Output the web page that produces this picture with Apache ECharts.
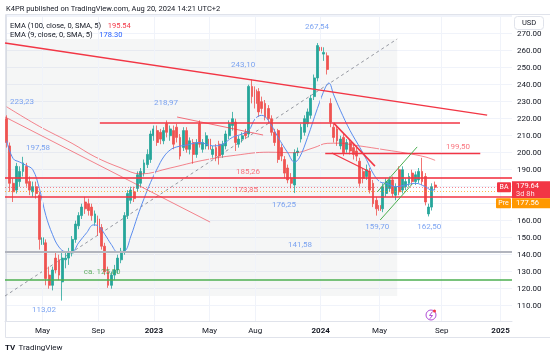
<!DOCTYPE html>
<html>
<head>
<meta charset="utf-8">
<script src="https://cdn.jsdelivr.net/npm/echarts@6/dist/echarts.min.js"></script>
<style>
html,body{margin:0;padding:0;background:#ffffff;}
#chart{width:550px;height:356px;}
</style>
</head>
<body>
<div id="chart"></div>
<script>
// ================= DATA =================
const firstWeek = '2022-02-14';
const weekCount = 155; // visible weekly slots incl. future space

const opens  = [220,204,182,178,183,189,192,183,177,180,175,146,147,128,122,138,137,124,137,138,
                141,149,157,163,171,170,168,159,161,156,145,130,122,128,131,137,142,163,172,177,
                179,182,188,193,196,210,213,212,207,217,210,213,215,209,203,213,202,206,199,217,
                202,204,208,199,203,205,199,204,210,216,218,205,208,212,211,239,237,236,230,229,
                226,220,212,213,203,196,191,185,181,200,208,212,217,222,233,244,262,258,257,229,
                215,214,204,209,202,206,203,201,195,189,186,189,182,172,169,167,176,179,184,175,
                190,178,180,182,188,183,184,189,186,164,168,181];
const closes = [206,182,177,192,189,194,182,178,180,176,149,150,126,122,131,131,128,138,138,141,
                149,158,163,168,167,166,163,164,153,145,130,122,128,131,138,142,163,176,178,173,
                187,189,194,199,211,214,206,208,213,212,214,205,209,198,213,202,207,199,206,205,
                206,210,202,202,198,198,205,211,217,220,206,208,210,210,239,233,229,224,226,221,
                220,212,206,196,198,188,184,182,200,201,215,220,224,232,244,263,260,259,249,218,
                209,207,208,200,206,201,199,198,182,185,190,178,170,167,166,180,183,184,176,180,
                177,190,183,186,183,187,189,183,171,168,180,179.64];
const lows   = [203,177,171,176,180,186,180,175,174,173,143,142,122,120,119,129,125,113.02,132,134,
                139,147,155,161,164,163,160,157,151,143,128,120.5,120,125,129,135,140,161,170,171,
                177,180,186,191,194,207,204,205,205,209,207,202,206,196,201,200,199,193.5,197,203,
                200,202,199,197,195,193,197,202,208,213,201,203,206,208,209,229,226,221,223,219,
                217,210,204,194,195,185,182,179,176.25,198,206,210,215,220,231,242,256,254,246,215,
                206,204,202,198,200,199,196,195,180,182,184,176,168,163,159.7,165,174,177,174,172,
                175,176,178,180,181,181,182,181,169,162.5,166,178];
const highs  = [222,206,185,194,192,197.58,194,186,183,183,177,155,149,133,133,141,140,141,142,144,
                151,160,165,170,174,173,170,166,163,158,147,133,130,134,140,144,165,178,180,180,
                189,191,196,202,213,216,216,214,215,218.97,216,216,217,211,215,215,209,208,208,219,
                208,212,210,204,205,207,207,213,219,224,220,210,212,214,240,243.1,239,238,233,231,
                228,222,214,214,205,198,193,188,202,203,217,222,226,234,246,264.5,267.54,262,259,232,
                217,216,210,211,208,208,205,203,197,191,193,191,184,174,171,182,185,186,186,182,
                192,192,185,188,190,189,191,197,188,170,182,183];

// EMA 9 (blue) and EMA 100 (red): [week index, value]
const ema9Points = [[0,207],[2,196.5],[4,194.5],[6,192.5],[8,190],[10,179],[12,163],[14,152],[16,144.5],
  [18,141.8],[20,141.8],[22,147],[24.5,153],[26.5,157.5],[28,157],[30,152],[32,146],[34,141.5],[36,142],
  [38,151],[40,162.5],[42,173],[44,182.5],[46,190.5],[48,197.5],[50,201.6],[52,203.4],[55,204.5],[59,206],
  [63,204],[66,205],[69,209],[72,211],[74,213],[76,220],[78,222],[80,219],[83,209],[86,199.8],[88,194.5],
  [89.5,197],[92,209],[95,226],[97.5,238.6],[98.5,241],[100,234],[102,225],[105,213],[108,203],[110,196],
  [112,188],[114,183],[116,182],[119,180],[122,181],[125,182],[128,180],[130,178],[131,178.3]];
const ema100Points = [[0,227],[10,215.5],[20,205.5],[27,197.6],[35,191],[41,187.5],[50,191],[60,195.5],
  [70,198.5],[80,200.3],[88,200],[94,203],[98,205.5],[102,205.6],[106,204.5],[110,203.4],[116,201.6],
  [122,199.8],[128,197.5],[131,195.5]];
const ema100Last = '195.54';
const ema9Last = '178.30';
const lastPrice = 179.64;
const prePrice = 177.56;

// x tick labels: [week index, text]
const xTickIdx  = [11, 28, 45, 62, 76, 96, 114, 133, 151];
const xTickText = ['May','Sep','2023','May','Aug','2024','May','Sep','2025'];
const yearTicks = ['2023','2024','2025'];

// Horizontal drawn levels
const fullLevels = [185.26, 173.85, 141.58, 125.00];
// Drawn segments: [x0, v0, x1, v1] in week-index / price units
const segMainDown  = [-0.5, 264.5, 146.9, 222.1];
const segThinDown  = [-0.5, 221.0, 62.2, 159.2];
const segRes217    = [28.5, 217.5, 138.6, 217.5];
const segRes199    = [97.4, 199.5, 144.8, 199.5];
const segChanA     = [100.0, 217.4, 112.6, 192.1];
const segChanB     = [99.4, 199.8, 111.1, 188.6];
const segGreenA    = [113.3, 176.9, 125.5, 203.4];
const segGreenB    = [114.2, 160.4, 124.0, 181.6];
const segPennant   = [52.1, 221.0, 78.4, 210.4];
const rangeBox     = [-0.5, 115.7, 119.4, 266.9];

// Price notes: [week index, price anchor, text, kind]
const notes = [
  [4.7, 229.8, '223,23', 'blue'],
  [9.6, 202.8, '197,58', 'blue'],
  [48.7, 229.2, '218,97', 'blue'],
  [72.3, 251.6, '243,10', 'blue'],
  [94.9, 273.9, '267,54', 'blue'],
  [73.8, 188.6, '185,26', 'red'],
  [73.2, 178.1, '173,85', 'red'],
  [84.8, 169.2, '176,25', 'blue'],
  [113.3, 156.3, '159,70', 'blue'],
  [129.2, 156.3, '162,50', 'blue'],
  [138.0, 203.4, '199,50', 'red'],
  [89.7, 145.7, '141,58', 'blue'],
  [29.2, 129.8, 'ca. 125,00', 'green'],
  [11.4, 107.5, '113,02', 'blue']
];

// ================= BUILD =================
const categories = [];
{
  const t0 = Date.parse(firstWeek + 'T00:00:00Z');
  for (let i = 0; i < weekCount; i++) categories.push(new Date(t0 + i * 7 * 86400000).toISOString().slice(0, 10));
}
const candles = opens.map((o, i) => [o, closes[i], lows[i], highs[i]]);
const tickMap = new Map(xTickIdx.map((k, j) => [k, xTickText[j]]));

const UP = '#26a69a', DOWN = '#ef5350', RED = '#f23645';
const noteColor = { blue: '#5b8def', red: '#f7525f', green: '#43a047' };
const FONT = 'Roboto, sans-serif';

function seg(s, color, width, type, z) {
  return {
    type: 'line', xAxisIndex: 1, yAxisIndex: 0, silent: true, symbol: 'none', z: z || 5,
    data: [[s[0], s[1]], [s[2], s[3]]],
    lineStyle: { color: color, width: width, type: type || 'solid' }, animation: false
  };
}

const chart = echarts.init(document.getElementById('chart'), null, { renderer: 'canvas' });

const option = {
  animation: false,
  backgroundColor: '#ffffff',
  textStyle: { fontFamily: FONT },
  grid: { left: 5, right: 38, top: 15, bottom: 35, containLabel: false, outerBoundsMode: 'none' },
  xAxis: [
    {
      type: 'category', data: categories, boundaryGap: true,
      axisLine: { show: true, lineStyle: { color: '#e0e3eb' } },
      axisTick: { show: false },
      splitLine: { show: false },
      axisLabel: {
        interval: (i) => tickMap.has(i),
        formatter: (v, i) => { const t = tickMap.get(i) || ''; return yearTicks.includes(t) ? '{b|' + t + '}' : t; },
        color: '#131722', fontSize: 8, margin: 6, fontFamily: FONT,
        rich: { b: { fontWeight: 'bold', fontSize: 8, color: '#131722', fontFamily: FONT } }
      }
    },
    { type: 'value', min: -0.5, max: weekCount - 0.5, show: false, scale: true }
  ],
  yAxis: {
    type: 'value', position: 'right', min: 101, max: 281, minInterval: 10, maxInterval: 10,
    axisLine: { show: true, lineStyle: { color: '#e0e3eb' } },
    axisTick: { show: false },
    splitLine: { show: true, lineStyle: { color: '#f0f3fa', width: 1 } },
    axisLabel: {
      color: '#131722', fontSize: 8, margin: 5, fontFamily: FONT, showMinLabel: false, showMaxLabel: false,
      formatter: (v) => {
        const r = Math.round(v);
        if (Math.abs(v - r) > 1e-6 || r % 10 !== 0) return '';
        if (r === 280 || r === 170 || r === 180) return '';
        return r.toFixed(2);
      }
    }
  },
  series: [
    {
      type: 'line', xAxisIndex: 0, data: [], silent: true, z: 0,
      markLine: {
        silent: true, symbol: 'none', label: { show: false },
        lineStyle: { color: '#f0f3fa', type: 'solid', width: 1 },
        data: xTickIdx.map(i => ({ xAxis: categories[i] }))
      }
    },
    {
      type: 'line', xAxisIndex: 1, data: [], silent: true, z: 1,
      markArea: {
        silent: true, itemStyle: { color: 'rgba(120,123,134,0.07)' },
        data: [[{ coord: [rangeBox[0], rangeBox[1]] }, { coord: [rangeBox[2], rangeBox[3]] }]]
      }
    },
    seg([rangeBox[0], rangeBox[1], rangeBox[2], rangeBox[3]], '#9598a1', 1, [3, 3], 2),
    {
      type: 'candlestick', xAxisIndex: 0, yAxisIndex: 0, data: candles, barWidth: 2.4, z: 3,
      itemStyle: { color: UP, color0: DOWN, borderColor: UP, borderColor0: DOWN, borderWidth: 0.8 }
    },
    {
      type: 'line', xAxisIndex: 1, data: ema100Points, smooth: 0.4, symbol: 'none', z: 4, silent: true,
      lineStyle: { color: 'rgba(242,54,69,0.6)', width: 1 }
    },
    {
      type: 'line', xAxisIndex: 1, data: ema9Points, smooth: 0.4, symbol: 'none', z: 4, silent: true,
      lineStyle: { color: '#5b8def', width: 1 }
    },
    {
      type: 'line', xAxisIndex: 0, data: [], silent: true, z: 5,
      markLine: {
        silent: true, symbol: 'none', label: { show: false },
        data: [
          { yAxis: fullLevels[0], lineStyle: { color: 'rgba(242,54,69,0.8)', width: 2, type: 'solid' } },
          { yAxis: fullLevels[1], lineStyle: { color: RED, width: 1.5, type: 'solid' } },
          { yAxis: fullLevels[2], lineStyle: { color: '#b2b5be', width: 2, type: 'solid' } },
          { yAxis: fullLevels[3], lineStyle: { color: '#4caf50', width: 1.5, type: 'solid' } },
          { yAxis: lastPrice, lineStyle: { color: 'rgba(242,54,69,0.6)', width: 1, type: [1, 2] } },
          { yAxis: prePrice, lineStyle: { color: 'rgba(255,152,0,0.7)', width: 1, type: [1, 2] } }
        ]
      }
    },
    seg(segMainDown, RED, 1.5),
    seg(segThinDown, 'rgba(242,54,69,0.6)', 1),
    seg(segRes217, RED, 1.5),
    seg(segRes199, RED, 1.5),
    seg(segChanA, RED, 1.5),
    seg(segChanB, RED, 1.2),
    seg(segGreenA, '#4caf50', 1),
    seg(segGreenB, '#4caf50', 1),
    seg(segPennant, 'rgba(242,54,69,0.7)', 1),
    {
      type: 'scatter', xAxisIndex: 1, yAxisIndex: 0, symbolSize: 0, silent: true, z: 8,
      data: notes.map(n => ({
        value: [n[0], n[1]],
        label: { show: true, position: 'inside', formatter: n[2], color: noteColor[n[3]], fontSize: 8, fontFamily: FONT }
      }))
    }
  ]
};
chart.setOption(option);

// ---------- overlay: header, legend, tags ----------
const yLast = chart.convertToPixel({ yAxisIndex: 0 }, lastPrice);
const g = [];
g.push({ type: 'rect', shape: { x: 5.5, y: 14.5, width: 545, height: 323 }, style: { fill: 'none', stroke: '#e0e3eb', lineWidth: 1 }, silent: true, z: 1 });
g.push({ type: 'text', left: 6, top: 5, style: { text: 'K4PR published on TradingView.com, Aug 20, 2024 14:21 UTC+2', font: '7.5px ' + FONT, fill: '#131722' }, z: 20 });
g.push({ type: 'text', left: 10, top: 20, style: { text: '{a|EMA (100, close, 0, SMA, 5)}  {r|' + ema100Last + '}', rich: { a: { font: '7.5px ' + FONT, fill: '#131722' }, r: { font: '7.5px ' + FONT, fill: RED } } }, z: 20 });
g.push({ type: 'text', left: 10, top: 29, style: { text: '{a|EMA (9, close, 0, SMA, 5)}  {r|' + ema9Last + '}', rich: { a: { font: '7.5px ' + FONT, fill: '#131722' }, r: { font: '7.5px ' + FONT, fill: '#2962ff' } } }, z: 20 });
g.push({ type: 'rect', shape: { x: 514.5, y: 16.5, width: 29, height: 13, r: 3 }, style: { fill: '#ffffff', stroke: '#e0e3eb', lineWidth: 1 }, z: 20 });
g.push({ type: 'text', x: 529, y: 23, style: { text: 'USD', font: '7.5px ' + FONT, fill: '#131722', textAlign: 'center', textVerticalAlign: 'middle' }, z: 21 });
g.push({ type: 'rect', shape: { x: 497, y: yLast - 5, width: 14, height: 10, r: 1 }, style: { fill: RED }, z: 20 });
g.push({ type: 'text', x: 504, y: yLast, style: { text: 'BA', font: '7px ' + FONT, fill: '#ffffff', textAlign: 'center', textVerticalAlign: 'middle' }, z: 21 });
g.push({ type: 'rect', shape: { x: 512, y: yLast - 6, width: 38, height: 17 }, style: { fill: RED }, z: 20 });
g.push({ type: 'text', x: 516, y: yLast - 1, style: { text: lastPrice.toFixed(2), font: '7.5px ' + FONT, fill: '#ffffff', textVerticalAlign: 'middle' }, z: 21 });
g.push({ type: 'text', x: 516, y: yLast + 6.5, style: { text: '3d 8h', font: '7.5px ' + FONT, fill: 'rgba(255,255,255,0.85)', textVerticalAlign: 'middle' }, z: 21 });
g.push({ type: 'rect', shape: { x: 496, y: yLast + 11, width: 15, height: 10, r: 1 }, style: { fill: '#ff9800' }, z: 20 });
g.push({ type: 'text', x: 503.5, y: yLast + 16, style: { text: 'Pre', font: '7px ' + FONT, fill: '#ffffff', textAlign: 'center', textVerticalAlign: 'middle' }, z: 21 });
g.push({ type: 'rect', shape: { x: 512, y: yLast + 11, width: 38, height: 10 }, style: { fill: '#ff9800' }, z: 20 });
g.push({ type: 'text', x: 516, y: yLast + 16, style: { text: prePrice.toFixed(2), font: '7.5px ' + FONT, fill: '#ffffff', textVerticalAlign: 'middle' }, z: 21 });
g.push({ type: 'circle', shape: { cx: 431, cy: 315, r: 5 }, style: { fill: '#ffffff', stroke: '#b04fd6', lineWidth: 1 }, z: 20 });
g.push({ type: 'polyline', shape: { points: [[432.5, 311.5], [429.5, 315.5], [432.5, 315.5], [429.8, 318.8]] }, style: { stroke: '#b04fd6', lineWidth: 1, fill: 'none' }, z: 21 });
g.push({ type: 'circle', shape: { cx: 434.5, cy: 311, r: 1.5 }, style: { fill: RED }, z: 22 });
g.push({ type: 'text', left: 5, top: 342, style: { text: '{l|TV} {t|TradingView}', rich: { l: { font: 'bold 8px ' + FONT, fill: '#131722' }, t: { font: '8px ' + FONT, fill: '#131722' } } }, z: 20 });
chart.setOption({ graphic: g });
</script>
</body>
</html>
